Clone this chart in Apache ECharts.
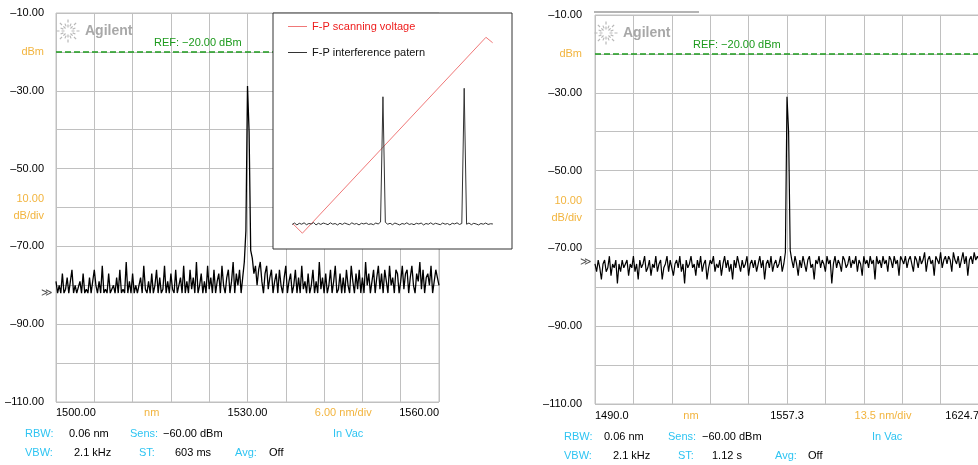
<!DOCTYPE html>
<html><head><meta charset="utf-8">
<script src="https://cdn.jsdelivr.net/npm/echarts@6/dist/echarts.min.js"></script>
<style>html,body{margin:0;padding:0;background:#fff}#c{width:978px;height:465px}</style>
</head><body><div id="c"></div>
<script>
// ---------------- DATA ----------------
// Left spectrum: 1500..1560 nm, sampled every 0.25 nm (dBm)
const leftStart = 1500, leftStep = 0.25;
const leftDbm = [
-79,-82,-80,-82,-77,-82,-81,-78,-82,-82,-76,-82,-80,-82,-82,-79,-82,-77,-82,-81,
-82,-78,-82,-82,-76,-80,-82,-79,-82,-75,-82,-81,-82,-77,-82,-82,-80,-82,-78,-82,
-76,-82,-81,-82,-74,-82,-79,-82,-77,-82,-80,-82,-82,-78,-82,-75,-81,-82,-79,-82,
-77,-82,-80,-76,-82,-78,-82,-81,-75,-82,-79,-82,-77,-81,-82,-76,-82,-80,-78,-82,
-75,-82,-79,-82,-76,-81,-78,-82,-74,-82,-80,-77,-82,-79,-82,-75,-81,-78,-82,-76,
-82,-79,-77,-82,-75,-80,-82,-78,-76,-82,-79,-74,-82,-77,-80,-76,-82,-78,-74,-66,
-28.8,-40.6,-71,-73,-77,-75,-80,-76,-74,-79,-82,-77,-75,-81,-78,-76,-82,-79,-77,-82,
-76,-80,-82,-78,-75,-82,-79,-77,-82,-80,-76,-82,-78,-82,-75,-81,-79,-82,-77,-82,
-80,-76,-82,-79,-82,-74,-81,-78,-82,-77,-82,-80,-76,-82,-79,-75,-82,-81,-77,-82,
-78,-82,-76,-80,-82,-75,-79,-82,-77,-81,-76,-82,-78,-82,-74,-80,-77,-82,-79,-76,
-82,-78,-75,-81,-77,-82,-76,-79,-82,-75,-80,-78,-82,-76,-77,-82,-79,-75,-81,-77,
-76,-82,-78,-75,-80,-82,-77,-79,-74,-81,-76,-82,-78,-77,-80,-75,-82,-79,-76,-78,
-80];
// Right spectrum: 1490.0..1624.7 nm, 241 samples (dBm)
const rightStart = 1490, rightStep = 0.56125;
const rightDbm = [
-74,-76,-73,-75,-78,-74,-73,-76,-75,-72,-77,-74,-75,-73,-79,-74,-76,-73,-75,-74,
-73,-77,-74,-75,-72,-76,-74,-78,-73,-75,-74,-72,-76,-75,-73,-77,-74,-75,-72,-76,
-74,-73,-78,-75,-74,-72,-76,-73,-75,-77,-74,-73,-75,-72,-76,-74,-79,-73,-75,-74,
-72,-75,-74,-77,-73,-75,-72,-76,-74,-73,-78,-75,-73,-74,-72,-76,-74,-75,-73,-77,
-74,-72,-75,-73,-76,-74,-78,-73,-75,-72,-74,-76,-73,-75,-74,-72,-77,-74,-73,-75,
-73,-76,-74,-72,-75,-73,-78,-74,-73,-75,-72,-76,-74,-73,-75,-74,-72,-76,-74,-71,
-31,-40,-70.5,-73,-75,-72,-74,-77,-73,-75,-72,-74,-76,-73,-72,-75,-74,-78,-73,-74,
-72,-75,-73,-74,-76,-72,-74,-73,-79,-74,-72,-75,-73,-74,-76,-72,-73,-75,-74,-72,
-75,-73,-74,-72,-76,-73,-74,-77,-72,-74,-73,-75,-72,-74,-73,-78,-72,-74,-73,-75,
-72,-74,-73,-76,-72,-73,-75,-72,-74,-73,-77,-72,-73,-74,-72,-75,-73,-72,-74,-76,
-72,-73,-75,-72,-74,-73,-71,-76,-73,-72,-74,-73,-77,-72,-73,-74,-71,-75,-73,-72,
-74,-72,-73,-76,-71,-73,-74,-72,-75,-73,-71,-74,-72,-77,-73,-72,-74,-71,-73,-72,
-73];
// Inset (arbitrary units 0..100 on both axes)
const insetVoltage = [[8.4,10.6],[12.3,6.7],[89.1,89.7],[91.9,87.4]];
const insetStart = 8, insetStep = 1;
const insetPattern = [
10.4,11.0,10.2,10.9,10.5,11.1,10.3,10.8,10.6,11.2,10.2,10.9,10.4,11.0,10.7,10.3,11.1,10.5,10.8,10.2,
10.9,10.4,11.0,10.6,10.3,11.1,10.5,10.8,10.2,10.9,10.6,11.0,10.4,10.7,10.3,11.0,10.6,11.4,64.5,11.3,
10.5,10.9,10.3,11.0,10.6,10.2,10.8,10.5,11.1,10.4,10.7,10.3,10.9,10.6,11.0,10.2,10.8,10.5,11.1,10.4,
10.9,10.6,10.3,11.0,10.5,10.8,10.2,10.9,10.6,11.1,10.4,10.8,68.1,10.5,11.0,10.3,10.9,10.6,10.2,10.8,
10.5,11.0,10.4,10.7,10.6];
const seriesNames = ['F-P scanning voltage', 'F-P interference patern'];
// Tick labels
const yTickText = ['–110.00','','–90.00','','–70.00','','–50.00','','–30.00','','–10.00'];
const yUnitText = ['','','','','','10.00\ndB/div','','','','dBm',''];
const leftXLabels = ['1500.00','','','','','1530.00','','','','','1560.00'];
const leftXUnits = ['','nm','','6.00 nm/div',''];
const rightXLabels = ['1490.0','','','','','1557.3','','','','','1624.7'];
const rightXUnits = ['','nm','','13.5 nm/div',''];
const refLevel = -20, refText = 'REF: −20.00 dBm';
const displayLevels = [-82, -73.5];
const leftFooter1 = ['RBW:','0.06 nm','Sens:','−60.00 dBm','In Vac'];
const leftFooter2 = ['VBW:','2.1 kHz','ST:','603 ms','Avg:','Off'];
const rightFooter1 = ['RBW:','0.06 nm','Sens:','−60.00 dBm','In Vac'];
const rightFooter2 = ['VBW:','2.1 kHz','ST:','1.12 s','Avg:','Off'];

// ---------------- STYLE ----------------
const FONT = '"Liberation Sans","Arial",sans-serif';
const FS = 11;
const ORANGE = '#f2b43e', CYAN = '#2ec4f2', GREEN = '#1c9a1c', GRID = '#c0c0c0';

const chart = echarts.init(document.getElementById('c'), null, {renderer: 'canvas'});

function yAxisFor(gi){
  return {gridIndex: gi, type: 'value', min: -110, max: -10, interval: 10, position: 'left',
    axisLine: {show: false}, axisTick: {show: false},
    splitLine: {show: true, lineStyle: {color: GRID, width: 1}},
    axisLabel: {margin: gi === 0 ? 12 : 13, color: '#000', fontSize: FS, fontFamily: FONT,
      formatter: (v, i) => {
        if (yUnitText[i]) return yUnitText[i].split('\n').map(s => '{o|' + s + '}').join('\n');
        return yTickText[i] || '';
      },
      rich: {o: {color: ORANGE, fontSize: FS, fontFamily: FONT, lineHeight: 17}}}
  };
}
function xAxisFor(gi, min, max, interval, labels, margin){
  return {gridIndex: gi, type: 'value', min, max, interval, position: 'bottom',
    axisLine: {show: false}, axisTick: {show: false},
    splitLine: {show: true, lineStyle: {color: GRID, width: 1}},
    axisLabel: {margin, color: '#000', fontSize: FS, fontFamily: FONT, showMinLabel: true, showMaxLabel: true,
      alignMinLabel: 'left', alignMaxLabel: 'right', hideOverlap: false,
      formatter: (v, i) => labels[i] || ''}};
}
function xUnitAxis(gi, min, max, interval, labels, margin){
  return {gridIndex: gi, type: 'value', min, max, interval, position: 'bottom', offset: 0,
    axisLine: {show: false}, axisTick: {show: false}, splitLine: {show: false},
    axisLabel: {margin, color: ORANGE, fontSize: FS, fontFamily: FONT, showMinLabel: true, showMaxLabel: true,
      hideOverlap: false, formatter: (v, i) => labels[i] || ''}};
}

const option = {
  animation: false,
  backgroundColor: '#fff',
  grid: [
    {left: 56, top: 13, width: 383, height: 389, show: true, borderColor: GRID, borderWidth: 1, outerBoundsMode: 'none', containLabel: false},
    {left: 595, top: 15, width: 384, height: 389, show: true, borderColor: GRID, borderWidth: 1, outerBoundsMode: 'none', containLabel: false},
    {left: 273, top: 13, width: 239, height: 236, show: true, backgroundColor: '#fff', borderColor: '#333', borderWidth: 1, z: 10, outerBoundsMode: 'none', containLabel: false}
  ],
  xAxis: [
    xAxisFor(0, 1500, 1560, 6, leftXLabels, 5),
    xUnitAxis(0, 1500, 1560, 15, leftXUnits, 5),
    xAxisFor(1, 1490, 1624.7, 13.47, rightXLabels, 6),
    xUnitAxis(1, 1490, 1624.7, 33.675, rightXUnits, 6),
    {gridIndex: 2, type: 'value', min: 0, max: 100, show: false, z: 11}
  ],
  yAxis: [
    yAxisFor(0), yAxisFor(1),
    {gridIndex: 2, type: 'value', min: 0, max: 100, show: false, z: 11}
  ],
  legend: {
    left: 283, top: 16, orient: 'vertical', itemWidth: 19, itemHeight: 1, itemGap: 15, itemTextGap: 3,
    icon: 'rect', z: 20, selectedMode: false,
    textStyle: {fontFamily: FONT, fontSize: FS},
    data: [
      {name: seriesNames[0], textStyle: {color: '#ee1c1c'}},
      {name: seriesNames[1], textStyle: {color: '#111'}}
    ]
  },
  series: [
    {type: 'line', xAxisIndex: 0, yAxisIndex: 0, showSymbol: false, symbol: 'none',
      lineStyle: {color: '#000', width: 1.3}, itemStyle: {color: '#000'},
      data: leftDbm.map((v, i) => [leftStart + i * leftStep, v]),
      markLine: {silent: true, symbol: 'none', animation: false,
        lineStyle: {color: GREEN, type: [6, 3], width: 1.5},
        label: {position: 'insideStartTop', formatter: refText, color: GREEN, fontSize: FS, fontFamily: FONT,
          distance: 3, padding: [0, 0, 0, 95]},
        data: [{yAxis: refLevel}]}},
    {type: 'line', xAxisIndex: 2, yAxisIndex: 1, showSymbol: false, symbol: 'none',
      lineStyle: {color: '#000', width: 1.2}, itemStyle: {color: '#000'},
      data: rightDbm.map((v, i) => [rightStart + i * rightStep, v]),
      markLine: {silent: true, symbol: 'none', animation: false,
        lineStyle: {color: GREEN, type: [6, 3], width: 1.5},
        label: {position: 'insideStartTop', formatter: refText, color: GREEN, fontSize: FS, fontFamily: FONT,
          distance: 3, padding: [0, 0, 0, 95]},
        data: [{yAxis: refLevel}]}},
    {name: seriesNames[0], type: 'line', xAxisIndex: 4, yAxisIndex: 2, showSymbol: false, symbol: 'none', z: 12,
      lineStyle: {color: '#f07878', width: 1}, itemStyle: {color: '#f07878'},
      data: insetVoltage},
    {name: seriesNames[1], type: 'line', xAxisIndex: 4, yAxisIndex: 2, showSymbol: false, symbol: 'none', z: 12,
      lineStyle: {color: '#333', width: 1}, itemStyle: {color: '#333'},
      data: insetPattern.map((v, i) => [insetStart + i * insetStep, v])}
  ]
};
chart.setOption(option);

// ---------------- DECORATIONS (positioned from the axes) ----------------
const g = [];
function txt(x, y, text, fill, extra){
  g.push(Object.assign({type: 'text', x, y, z: 30,
    style: Object.assign({text, fill, fontSize: FS, fontFamily: FONT, verticalAlign: 'middle', align: 'left'}, extra || {})}));
}
function logo(px, py){
  const cx = px + 12, cy = py + 19;
  for (let k = 0; k < 16; k++){
    const a = k * Math.PI / 8;
    const r1 = k % 2 ? 5 : 3.5, r2 = k % 2 ? 9 : 12.5;
    g.push({type: 'line', z: 30, shape: {x1: cx + Math.cos(a) * r1, y1: cy + Math.sin(a) * r1, x2: cx + Math.cos(a) * r2, y2: cy + Math.sin(a) * r2},
      style: {stroke: '#b8b8b8', lineWidth: 1.2, lineDash: [3, 2]}});
  }
  txt(px + 29, py + 19, 'Agilent', '#a8a8a8', {fontSize: 14, fontWeight: 'bold'});
}
const L0 = chart.convertToPixel({xAxisIndex: 0}, 1500), T0 = chart.convertToPixel({yAxisIndex: 0}, -10), B0 = chart.convertToPixel({yAxisIndex: 0}, -110);
const L1 = chart.convertToPixel({xAxisIndex: 2}, 1490), T1 = chart.convertToPixel({yAxisIndex: 1}, -10), B1 = chart.convertToPixel({yAxisIndex: 1}, -110);
logo(L0, T0 - 1);
logo(L1 - 1, T1 - 1);
g.push({type: 'rect', z: 30, shape: {x: L1 - 1, y: T1 - 4, width: 105, height: 2}, style: {fill: '#b4b4b4'}});
txt(L0 - 3, chart.convertToPixel({yAxisIndex: 0}, displayLevels[0]), '≫', '#555', {align: 'right', fontSize: 11});
txt(L1 - 3, chart.convertToPixel({yAxisIndex: 1}, displayLevels[1]), '≫', '#555', {align: 'right', fontSize: 11});

const c1 = [CYAN, '#000', CYAN, '#000', CYAN];
const c2 = [CYAN, '#000', CYAN, '#000', CYAN, '#000'];
const lOff1 = [-31, 13, 74, 107, 277], lOff2 = [-31, 18, 83, 119, 179, 213];
const rOff1 = [-31, 9, 73, 107, 277], rOff2 = [-31, 18, 83, 117, 180, 213];
leftFooter1.forEach((t, i) => txt(L0 + lOff1[i], B0 + 32, t, c1[i]));
leftFooter2.forEach((t, i) => txt(L0 + lOff2[i], B0 + 51, t, c2[i]));
rightFooter1.forEach((t, i) => txt(L1 + rOff1[i], B1 + 33, t, c1[i]));
rightFooter2.forEach((t, i) => txt(L1 + rOff2[i], B1 + 52, t, c2[i]));
chart.setOption({graphic: {elements: g}});
</script>
</body></html>
